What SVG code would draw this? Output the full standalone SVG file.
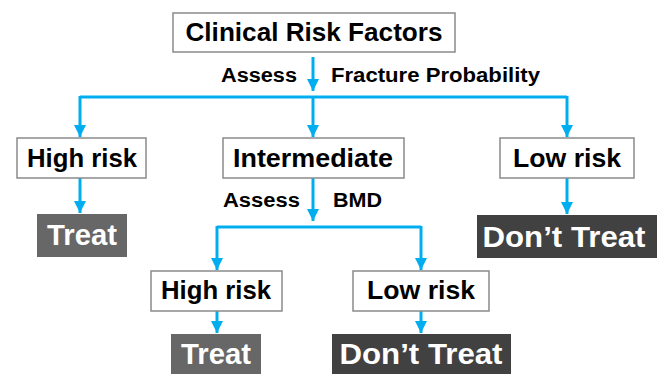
<svg xmlns="http://www.w3.org/2000/svg" width="662" height="374" viewBox="0 0 662 374">
<style>
.box{fill:#fff;stroke:#8a8a8a;stroke-width:1.5}
.t{font-family:"Liberation Sans",Arial,sans-serif;font-weight:bold;fill:#000;text-anchor:middle}
.bt{font-size:25px}
.lb{font-size:20px;text-anchor:start}
.tr{font-family:"Liberation Sans",Arial,sans-serif;font-weight:bold;fill:#fff;text-anchor:middle;font-size:29px}
.c{stroke:#00aeef;stroke-width:3;fill:none}
</style>
<defs>
<marker id="ah" viewBox="0 0 10 10" refX="10" refY="5" markerWidth="4" markerHeight="4" orient="auto" markerUnits="strokeWidth">
<path d="M0,0 L10,5 L0,10 z" fill="#00aeef"/>
</marker>
</defs>
<g id="connectors">
<line class="c" x1="313" y1="57" x2="313" y2="91" marker-end="url(#ah)"/>
<line class="c" x1="80" y1="97" x2="567" y2="97"/>
<line class="c" x1="80" y1="96" x2="80" y2="137" marker-end="url(#ah)"/>
<line class="c" x1="567" y1="96" x2="567" y2="137" marker-end="url(#ah)"/>
<line class="c" x1="313" y1="97" x2="313" y2="137" marker-end="url(#ah)"/>
<line class="c" x1="80" y1="178" x2="80" y2="213" marker-end="url(#ah)"/>
<line class="c" x1="567" y1="178" x2="567" y2="214" marker-end="url(#ah)"/>
<line class="c" x1="313" y1="178" x2="313" y2="221" marker-end="url(#ah)"/>
<line class="c" x1="217" y1="227" x2="421" y2="227"/>
<line class="c" x1="217" y1="226" x2="217" y2="270" marker-end="url(#ah)"/>
<line class="c" x1="421" y1="226" x2="421" y2="270" marker-end="url(#ah)"/>
<line class="c" x1="217" y1="311" x2="217" y2="333" marker-end="url(#ah)"/>
<line class="c" x1="421" y1="311" x2="421" y2="333" marker-end="url(#ah)"/>
<text class="t lb" x="221" y="82" textLength="76" lengthAdjust="spacingAndGlyphs">Assess</text>
<text class="t lb" x="331" y="82" textLength="209" lengthAdjust="spacingAndGlyphs">Fracture Probability</text>
<text class="t lb" x="223" y="207" textLength="77" lengthAdjust="spacingAndGlyphs">Assess</text>
<text class="t lb" x="333" y="207" textLength="49" lengthAdjust="spacingAndGlyphs">BMD</text>
</g>
<g id="crf">
<rect class="box" x="173" y="13" width="282" height="39"/>
<text class="t bt" x="314" y="41" textLength="257" lengthAdjust="spacingAndGlyphs">Clinical Risk Factors</text>
</g>
<g id="high1">
<rect class="box" x="17" y="138" width="129" height="40"/>
<text class="t bt" x="82" y="167" textLength="110" lengthAdjust="spacingAndGlyphs">High risk</text>
</g>
<g id="inter">
<rect class="box" x="223" y="138" width="181" height="40"/>
<text class="t bt" x="313" y="167" textLength="160" lengthAdjust="spacingAndGlyphs">Intermediate</text>
</g>
<g id="low1">
<rect class="box" x="500" y="138" width="134" height="40"/>
<text class="t bt" x="567" y="167" textLength="108" lengthAdjust="spacingAndGlyphs">Low risk</text>
</g>
<g id="treat1">
<rect x="37" y="214" width="90" height="43" fill="#676767"/>
<text class="tr" x="82" y="245" textLength="70" lengthAdjust="spacingAndGlyphs">Treat</text>
</g>
<g id="dont1">
<rect x="477" y="215" width="180" height="43" fill="#414141"/>
<text class="tr" x="564" y="247" textLength="163" lengthAdjust="spacingAndGlyphs">Don’t Treat</text>
</g>
<g id="high2">
<rect class="box" x="151" y="271" width="131" height="40"/>
<text class="t bt" x="216" y="299" textLength="110" lengthAdjust="spacingAndGlyphs">High risk</text>
</g>
<g id="low2">
<rect class="box" x="353" y="271" width="136" height="40"/>
<text class="t bt" x="421" y="299" textLength="108" lengthAdjust="spacingAndGlyphs">Low risk</text>
</g>
<g id="treat2">
<rect x="171" y="334" width="90" height="42" fill="#676767"/>
<text class="tr" x="216" y="364" textLength="70" lengthAdjust="spacingAndGlyphs">Treat</text>
</g>
<g id="dont2">
<rect x="332" y="334" width="179" height="42" fill="#414141"/>
<text class="tr" x="421" y="364" textLength="163" lengthAdjust="spacingAndGlyphs">Don’t Treat</text>
</g>
</svg>
